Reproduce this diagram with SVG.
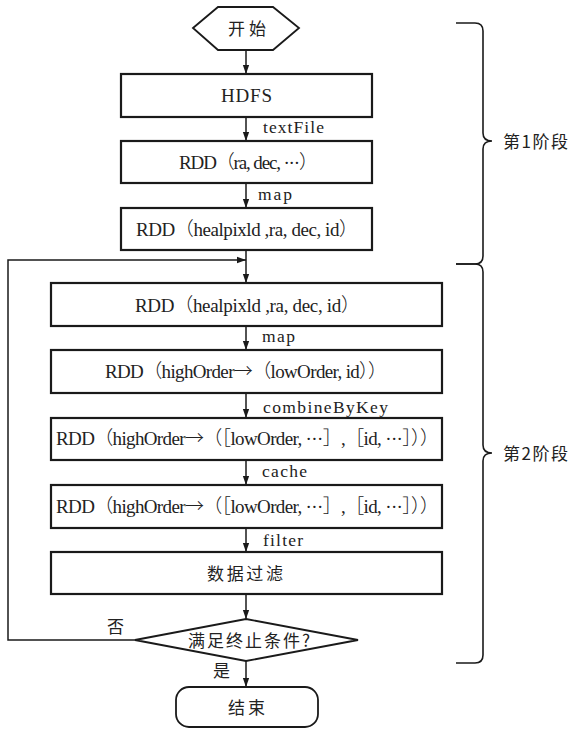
<svg xmlns="http://www.w3.org/2000/svg" width="568" height="729" viewBox="0 0 568 729">
  <defs>
    <marker id="arrow" viewBox="0 0 10 10" refX="10" refY="5" markerWidth="9" markerHeight="9" markerUnits="userSpaceOnUse" orient="auto">
      <path d="M0,1.5 L10,5 L0,8.5 Z" fill="#1a1a1a"/>
    </marker>
    <style>
      .box { fill: #fff; stroke: #1a1a1a; stroke-width: 2.2; }
      .shape { fill: #fff; stroke: #1a1a1a; stroke-width: 1.8; }
      .edge { fill: none; stroke: #1a1a1a; stroke-width: 1.5; }
      .brace { fill: none; stroke: #1a1a1a; stroke-width: 1.6; }
      text { font-family: "Liberation Serif", "Noto Sans CJK SC", serif; fill: #222; }
      .t { font-size: 19px; text-anchor: start; }
      .lbl { font-size: 17.5px; }
      .cjk { font-family: "Noto Sans CJK SC", "Liberation Serif", sans-serif; font-size: 17px; }
      .sym { font-family: "Noto Sans CJK SC", sans-serif; font-weight: 300; }
    </style>
  </defs>

  <!-- connectors -->
  <g id="connectors">
    <line class="edge" x1="246" y1="50" x2="246" y2="74" marker-end="url(#arrow)"/>
    <line class="edge" x1="246" y1="117" x2="246" y2="141" marker-end="url(#arrow)"/>
    <line class="edge" x1="246" y1="183" x2="246" y2="208" marker-end="url(#arrow)"/>
    <line class="edge" x1="246" y1="250" x2="246" y2="283" marker-end="url(#arrow)"/>
    <line class="edge" x1="246" y1="326" x2="246" y2="350" marker-end="url(#arrow)"/>
    <line class="edge" x1="246" y1="393" x2="246" y2="418" marker-end="url(#arrow)"/>
    <line class="edge" x1="246" y1="460" x2="246" y2="485" marker-end="url(#arrow)"/>
    <line class="edge" x1="246" y1="528" x2="246" y2="552" marker-end="url(#arrow)"/>
    <line class="edge" x1="246" y1="594" x2="246" y2="619" marker-end="url(#arrow)"/>
    <line class="edge" x1="246" y1="661" x2="246" y2="687" marker-end="url(#arrow)"/>
    <!-- loop back when the condition is not met -->
    <polyline class="edge" points="135,640 8,640 8,260 246,260" marker-end="url(#arrow)"/>
    <text class="lbl" x="263" y="133" textLength="61" lengthAdjust="spacing">textFile</text>
    <text class="lbl" x="258" y="200" textLength="34" lengthAdjust="spacing">map</text>
    <text class="lbl" x="262" y="342" textLength="33" lengthAdjust="spacing">map</text>
    <text class="lbl" x="263" y="413" textLength="125" lengthAdjust="spacing">combineByKey</text>
    <text class="lbl" x="262" y="477" textLength="45" lengthAdjust="spacing">cache</text>
    <text class="lbl" x="263" y="546" textLength="40" lengthAdjust="spacing">filter</text>
    <text class="cjk" x="107" y="633">否</text>
    <text class="cjk" x="213" y="677">是</text>
  </g>

  <g id="start">
    <polygon class="shape" points="193,28 218,7 273,7 299,28 273,50 218,50"/>
    <text class="cjk" x="228" y="35" textLength="38" lengthAdjust="spacing">开始</text>
  </g>

  <g id="hdfs">
    <rect class="box" x="121" y="74" width="251" height="43"/>
    <text class="t" x="221" y="102" textLength="51" lengthAdjust="spacing">HDFS</text>
  </g>

  <g id="rdd-radec">
    <rect class="box" x="121" y="141" width="251" height="42"/>
    <text class="t" x="179" y="169" textLength="139" lengthAdjust="spacing">RDD<tspan class="sym">（</tspan>ra, dec, ···<tspan class="sym">）</tspan></text>
  </g>

  <g id="rdd-healpix-1">
    <rect class="box" x="121" y="208" width="251" height="42"/>
    <text class="t" x="136" y="236" textLength="222" lengthAdjust="spacing">RDD<tspan class="sym">（</tspan>healpixld ,ra, dec, id<tspan class="sym">）</tspan></text>
  </g>

  <g id="rdd-healpix-2">
    <rect class="box" x="51" y="283" width="391" height="43"/>
    <text class="t" x="135" y="312" textLength="225" lengthAdjust="spacing">RDD<tspan class="sym">（</tspan>healpixld ,ra, dec, id<tspan class="sym">）</tspan></text>
  </g>

  <g id="rdd-order">
    <rect class="box" x="51" y="350" width="391" height="43"/>
    <text class="t" x="105" y="378" textLength="282" lengthAdjust="spacing">RDD<tspan class="sym">（</tspan>highOrder<tspan class="sym">→（</tspan>lowOrder, id<tspan class="sym">））</tspan></text>
  </g>

  <g id="rdd-combined">
    <rect class="box" x="51" y="418" width="391" height="42"/>
    <text class="t" x="56" y="445" textLength="383" lengthAdjust="spacing">RDD<tspan class="sym">（</tspan>highOrder<tspan class="sym">→（［</tspan>lowOrder, ···<tspan class="sym">］</tspan>,<tspan class="sym">［</tspan>id, ···<tspan class="sym">］））</tspan></text>
  </g>

  <g id="rdd-cached">
    <rect class="box" x="51" y="485" width="391" height="43"/>
    <text class="t" x="56" y="513" textLength="383" lengthAdjust="spacing">RDD<tspan class="sym">（</tspan>highOrder<tspan class="sym">→（［</tspan>lowOrder, ···<tspan class="sym">］</tspan>,<tspan class="sym">［</tspan>id, ···<tspan class="sym">］））</tspan></text>
  </g>

  <g id="filter">
    <rect class="box" x="51" y="552" width="391" height="42"/>
    <text class="cjk" x="207" y="580" textLength="76" lengthAdjust="spacing">数据过滤</text>
  </g>

  <g id="condition">
    <polygon class="shape" points="246,619 358,640 246,661 135,640"/>
    <text class="cjk" x="188" y="647" textLength="122" lengthAdjust="spacing">满足终止条件?</text>
  </g>

  <g id="end">
    <rect class="shape" x="176" y="687" width="142" height="40" rx="13" ry="13"/>
    <text class="cjk" x="228" y="714" textLength="37" lengthAdjust="spacing">结束</text>
  </g>

  <!-- stage braces -->
  <g id="stage1">
    <path class="brace" d="M456,23 H475 Q483,23 483,31 V133 Q483,141 492,141 Q483,141 483,149 V256 Q483,264 475,264 H456"/>
    <text class="cjk" x="503" y="148" textLength="65" lengthAdjust="spacing">第1阶段</text>
  </g>
  <g id="stage2">
    <path class="brace" d="M456,264 H475 Q483,264 483,272 V445 Q483,453 492,453 Q483,453 483,461 V655 Q483,663 475,663 H456"/>
    <text class="cjk" x="503" y="460" textLength="65" lengthAdjust="spacing">第2阶段</text>
  </g>
</svg>
